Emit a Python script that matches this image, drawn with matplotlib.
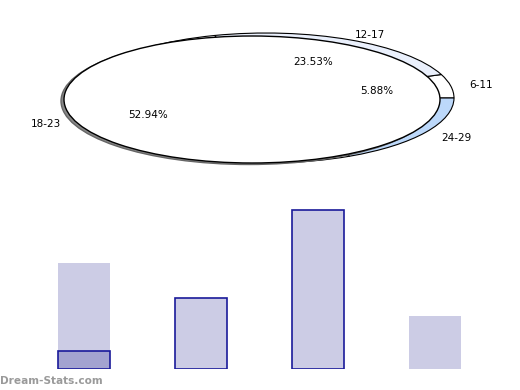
import matplotlib
matplotlib.use("Agg")
import matplotlib.pyplot as plt
from matplotlib.patches import Ellipse

# pie data (counts per age group)
age_groups = ['6-11', '12-17', '18-23', '24-29']
age_counts = [1, 4, 9, 3]
pie_colors = ['#ffffff', '#eaf0fc', '#ffffff', '#bcd8fa']

# bar data
bar_values = [6, 4, 9, 3]
bar_highlight = [1, 0, 0, 0]
bar_edges = ['none', '#1a1a9a', '#1a1a9a', 'none']

fig = plt.figure(figsize=(5.2, 3.9), dpi=100)

# top: squashed pie, axes covers 0..200 px from top
ax = fig.add_axes([0, 1 - 200 / 390, 1, 200 / 390])
wedges, texts, autotexts = ax.pie(
    age_counts, labels=age_groups, colors=pie_colors, startangle=0,
    counterclock=True, autopct='%.2f%%', pctdistance=0.62, labeldistance=1.1,
    wedgeprops=dict(edgecolor='black', linewidth=0.8),
    textprops=dict(fontsize=7.5))
autotexts[3].set_visible(False)

# map data units to pixels: center (266, 98), rx 188 px, ry 65 px
cx, cy, rx, ry = 266, 98, 188, 65
ax.set_aspect('auto')
ax.set_xlim((0 - cx) / rx, (520 - cx) / rx)
ax.set_ylim((cy - 200) / ry, (cy - 0) / ry)
ax.axis('off')

# small nudges so the labels sit like the original
label_shift = [(0, 0), (-3, -1), (-12, 0), (-1, -2)]
pct_shift = [(-4, 0), (-5, 0), (-9, -2), (0, 0)]
for t, (dx, dy) in zip(texts, label_shift):
    x, y = t.get_position()
    t.set_position((x + dx / rx, y + dy / ry))
for t, (dx, dy) in zip(autotexts, pct_shift):
    x, y = t.get_position()
    t.set_position((x + dx / rx, y + dy / ry))
for t in texts + autotexts:
    t.set_zorder(6)
    t.set_va('center')

# shadow and top face of the big slice
ax.add_patch(Ellipse(((249 - cx) / rx, (cy - 101) / ry), 2, 2 * 63.5 / ry,
                     facecolor='#888888', edgecolor='#666666', lw=1, zorder=2))
ax.add_patch(Ellipse(((252 - cx) / rx, (cy - 99.5) / ry), 2, 2 * 63.5 / ry,
                     facecolor='white', edgecolor='black', lw=1, zorder=3))

# bottom: bars
bx = fig.add_axes([25.5 / 520, 1 - 369 / 390, 468 / 520, 176.7 / 390])
xs = range(len(bar_values))
bx.bar(xs, bar_values, width=0.45, color='#ccccE5', edgecolor=bar_edges, linewidth=1.2)
bx.bar(xs, bar_highlight, width=0.45, color='#a3a3d0',
       edgecolor=['#1a1a9a' if v else 'none' for v in bar_highlight], linewidth=1.2)
bx.set_xlim(-0.5, 3.5)
bx.set_ylim(0, 10)
bx.axis('off')

fig.text(0.0, 1 - 380.5 / 390, 'Dream-Stats.com', fontsize=7.6, fontweight='bold',
         color='#9a9a9a', ha='left', va='center')

fig.savefig('out.png', dpi=100)
